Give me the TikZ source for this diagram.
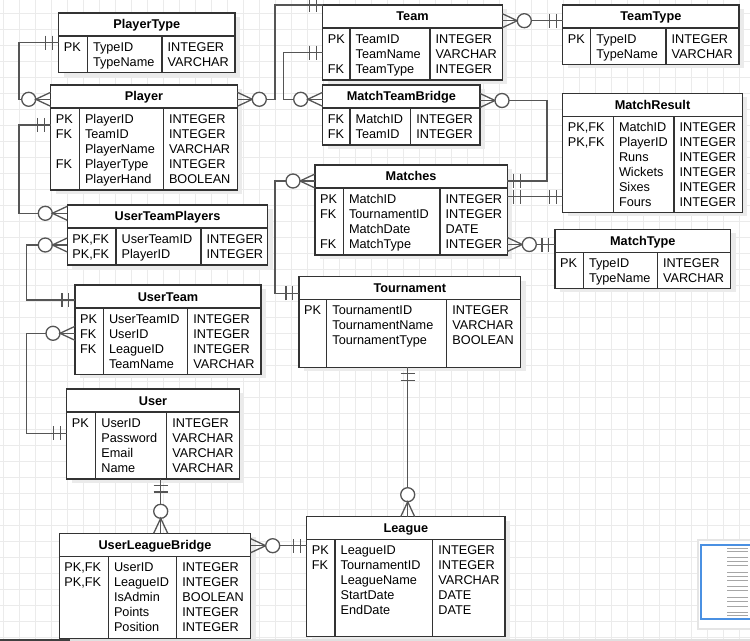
\documentclass[tikz,border=0pt]{standalone}
\usepackage{fontspec}
\setmainfont{Liberation Sans}
\usetikzlibrary{decorations.markings}

\definecolor{erline}{HTML}{333333}
\definecolor{conline}{HTML}{555555}
\definecolor{gridgray}{HTML}{EBEBEB}
\definecolor{mapblue}{HTML}{4A90E2}

\tikzset{
  tbl/.style={draw=erline, fill=white, line width=1.3bp, inner sep=0pt, outer sep=0pt},
  tblline/.style={draw=erline, line width=1.3bp},
  shadebox/.style={fill=black!8},
  tbltitle/.style={font=\fontsize{12.7bp}{15bp}\selectfont\bfseries, anchor=base, inner sep=0pt},
  tblrows/.style={font=\fontsize{12.7bp}{15bp}\selectfont, align=left, anchor=north west, inner sep=0pt},
  conn/.style={draw=conline, line width=1.3bp},
  erbar/.style={draw=conline, line width=1.3bp},
  one start/.style={postaction={decorate, decoration={markings,
    mark=at position 6.5bp with {\draw[erbar] (0,-7bp) -- (0,7bp);},
    mark=at position 13bp with {\draw[erbar] (0,-7bp) -- (0,7bp);}}}},
  one end/.style={postaction={decorate, decoration={markings,
    mark=at position -13bp with {\draw[erbar] (0,-7bp) -- (0,7bp);},
    mark=at position -6.5bp with {\draw[erbar] (0,-7bp) -- (0,7bp);}}}},
  zmany start/.style={postaction={decorate, decoration={markings,
    mark=at position 15bp with {\draw[erbar] (-15bp,7bp) -- (0,0) -- (-15bp,-7bp);},
    mark=at position 22bp with {\draw[erbar, fill=white] (0,0) circle (7bp);}}}},
  zmany end/.style={postaction={decorate, decoration={markings,
    mark=at position -22bp with {\draw[erbar, fill=white] (0,0) circle (7bp);},
    mark=at position -15bp with {\draw[erbar] (15bp,7bp) -- (0,0) -- (15bp,-7bp);}}}}
}

% name, x1, y1, x2, y2, key line, type line, title
\newcommand{\ertable}[8]{%
  \fill[shadebox] (#2+5,#3+4) rectangle (#4+5,#5+4);
  \node[tbl, minimum width={(#4-#2)*1bp}, minimum height={(#5-#3)*1bp}, anchor=north west] (#1) at (#2,#3) {};
  \draw[tblline] (#2,#3+23) -- (#4,#3+23) (#6,#3+23) -- (#6,#5) (#7,#3+23) -- (#7,#5);
  \node[tbltitle] (#1-title) at ({(#2+#4)/2},#3+16) {#8};
  \coordinate (#1-k) at (#2+5,#3+28);
  \coordinate (#1-f) at (#6+5.5,#3+28);
  \coordinate (#1-t) at (#7+5.5,#3+28);
}
\newcommand{\erbody}[4]{%
  \node[tblrows] (#1-keys) at (#1-k) {\rule{0pt}{10bp}#2};
  \node[tblrows] (#1-fields) at (#1-f) {\rule{0pt}{10bp}#3};
  \node[tblrows] (#1-types) at (#1-t) {\rule{0pt}{10bp}#4};
}

\begin{document}
\begin{tikzpicture}[x=1bp, y=-1bp]
\useasboundingbox (0,0) rectangle (750,641);
\fill[white] (0,0) rectangle (750,641);
% grid
\foreach \x in {3.3,19.3,...,750} \draw[gridgray, line width=1bp] (\x,0) -- (\x,641);
\foreach \y in {13.3,29.3,...,641} \draw[gridgray, line width=1bp] (0,\y) -- (750,\y);

% tables
\ertable{playertype}{58.7}{13}{235}{72.7}{87.3}{162}{PlayerType}
\erbody{playertype}{PK}{TypeID\\TypeName}{INTEGER\\VARCHAR}
\ertable{player}{50.7}{85}{237.3}{190}{79.3}{163.3}{Player}
\erbody{player}{PK\\FK\\\mbox{}\\FK}{PlayerID\\TeamID\\PlayerName\\PlayerType\\PlayerHand}{INTEGER\\INTEGER\\VARCHAR\\INTEGER\\BOOLEAN}
\ertable{team}{322.7}{5}{502.3}{80}{350}{430}{Team}
\erbody{team}{PK\\\mbox{}\\FK}{TeamID\\TeamName\\TeamType}{INTEGER\\VARCHAR\\INTEGER}
\ertable{teamtype}{562.7}{5}{739}{64.3}{590.7}{666}{TeamType}
\erbody{teamtype}{PK}{TypeID\\TypeName}{INTEGER\\VARCHAR}
\ertable{mtb}{322.7}{85}{480}{145}{350}{410.7}{MatchTeamBridge}
\erbody{mtb}{FK\\FK}{MatchID\\TeamID}{INTEGER\\INTEGER}
\ertable{matchresult}{562.7}{93.3}{742.3}{212.3}{613.3}{674}{MatchResult}
\erbody{matchresult}{PK,FK\\PK,FK}{MatchID\\PlayerID\\Runs\\Wickets\\Sixes\\Fours}{INTEGER\\INTEGER\\INTEGER\\INTEGER\\INTEGER\\INTEGER}
\ertable{matches}{315}{165}{507.3}{255}{343.3}{440}{Matches}
\erbody{matches}{PK\\FK\\\mbox{}\\FK}{MatchID\\TournamentID\\MatchDate\\MatchType}{INTEGER\\INTEGER\\DATE\\INTEGER}
\ertable{matchtype}{555}{229.3}{730.7}{288.3}{583.3}{657.3}{MatchType}
\erbody{matchtype}{PK}{TypeID\\TypeName}{INTEGER\\VARCHAR}
\ertable{utp}{67.3}{205}{267.7}{265}{116}{201}{UserTeamPlayers}
\erbody{utp}{PK,FK\\PK,FK}{UserTeamID\\PlayerID}{INTEGER\\INTEGER}
\ertable{userteam}{75}{285}{261}{374.3}{103.3}{187.7}{UserTeam}
\erbody{userteam}{PK\\FK\\FK}{UserTeamID\\UserID\\LeagueID\\TeamName}{INTEGER\\INTEGER\\INTEGER\\VARCHAR}
\ertable{tournament}{299}{276.7}{520.7}{367.3}{326.7}{446.7}{Tournament}
\erbody{tournament}{PK}{TournamentID\\TournamentName\\TournamentType}{INTEGER\\VARCHAR\\BOOLEAN}
\ertable{user}{66.7}{389}{239.3}{479}{95.7}{166.7}{User}
\erbody{user}{PK}{UserID\\Password\\Email\\Name}{INTEGER\\VARCHAR\\VARCHAR\\VARCHAR}
\ertable{ulb}{59.3}{533.3}{250.7}{638.3}{108.3}{176.7}{UserLeagueBridge}
\erbody{ulb}{PK,FK\\PK,FK}{UserID\\LeagueID\\IsAdmin\\Points\\Position}{INTEGER\\INTEGER\\BOOLEAN\\INTEGER\\INTEGER}
\ertable{league}{306.7}{516.7}{505}{636.7}{335}{432.7}{League}
\erbody{league}{PK\\FK}{LeagueID\\TournamentID\\LeagueName\\StartDate\\EndDate}{INTEGER\\INTEGER\\VARCHAR\\DATE\\DATE}

% relations
\draw[conn, one start, zmany end] (playertype.west |- 0,42.7) -| (19,99.3) -- (player.west |- 0,99.3);
\draw[conn, one start, zmany end] (player.west |- 0,125) -| (19,213.3) -- (utp.west |- 0,213.3);
\draw[conn, zmany start, one end] (player.east |- 0,99.3) -| (275,5) -- (team.west |- 0,5);
\draw[conn, one start, zmany end] (team.west |- 0,52.7) -| (283.3,99.3) -- (mtb.west |- 0,99.3);
\draw[conn, zmany start, one end] (team.east |- 0,20.7) -- (teamtype.west |- 0,20.7);
\draw[conn, zmany start, one end] (mtb.east |- 0,100.5) -| (547,181) -- (matches.east |- 0,181);
\draw[conn, one start, one end] (matches.east |- 0,196.7) -- (matchresult.west |- 0,196.7);
\draw[conn, zmany start, one end] (matches.east |- 0,244.5) -- (matchtype.west |- 0,244.5);
\draw[conn, zmany start, one end] (matches.west |- 0,181) -| (275,293.3) -- (tournament.west |- 0,293.3);
\draw[conn, one start, zmany end] (tournament.south -| 407.7,0) -- (league.north -| 407.7,0);
\draw[conn, one start, zmany end] (user.west |- 0,433.3) -| (26.7,333.3) -- (userteam.west |- 0,333.3);
\draw[conn, one start, zmany end] (userteam.west |- 0,300) -| (26.7,245) -- (utp.west |- 0,245);
\draw[conn, one start, zmany end] (user.south -| 160.7,0) -- (ulb.north -| 160.7,0);
\draw[conn, zmany start, one end] (ulb.east |- 0,545.7) -- (league.west |- 0,545.7);

% outline panel
\fill[black!10] (697,539) rectangle (750,630);
\fill[white] (699,541) rectangle (750,628);
\draw[mapblue, line width=1.3bp] (701,545) rectangle (752,619);
\foreach \y in {548,551,557,561,565,572,576,580,586,590,597,601,606,612,615}
  \draw[black!35, line width=0.7bp] (727,\y) -- (748,\y);
% scroll bar
\fill[black!12] (0,639) rectangle (750,641);
\fill[black!75] (0,639) rectangle (70,641);
\end{tikzpicture}
\end{document}
